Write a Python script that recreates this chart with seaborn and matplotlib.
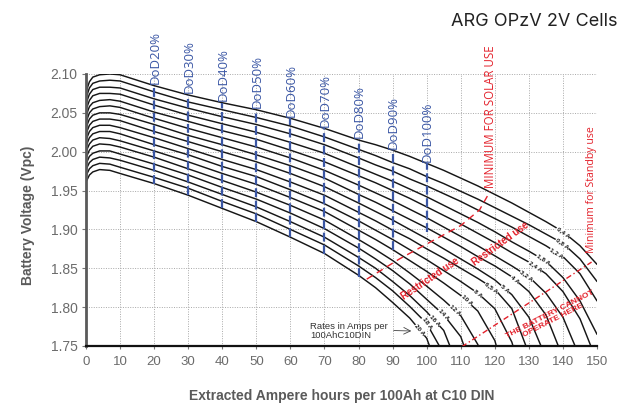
import numpy as np
import pandas as pd
import matplotlib
matplotlib.use("Agg")
import matplotlib.pyplot as plt
import seaborn as sns

# Extracted Ah per 100Ah where the curves were read
ah = [0, 1, 2, 4, 7, 10, 20, 30, 40, 50, 60, 70, 80,
      85, 90, 95, 100, 105, 110, 115, 120, 125, 130, 135, 140, 145, 150]

currents = ['0,4 A', '0,8 A', '1,2 A', '1,8 A', '2,4 A', '3,2 A', '4 A', '5 A',
            '6,5 A', '8 A', '10 A', '12 A', '14 A', '16 A', '18 A', '20 A']

# cell voltage (Vpc) of each discharge curve, read at the ah positions above
v_0p4 = [2.077, 2.090, 2.096, 2.099, 2.100, 2.099, 2.085, 2.073, 2.063, 2.054, 2.043, 2.030, 2.015,
         2.009, 2.002, 1.994, 1.985, 1.976, 1.966, 1.956, 1.945, 1.934, 1.922, 1.910, 1.897, 1.879, 1.855]
v_0p8 = [2.069, 2.082, 2.088, 2.091, 2.092, 2.091, 2.077, 2.064, 2.054, 2.044, 2.033, 2.019, 2.003,
         1.995, 1.986, 1.978, 1.968, 1.959, 1.949, 1.939, 1.928, 1.917, 1.906, 1.894, 1.882, 1.862, 1.833]
v_1p2 = [2.062, 2.074, 2.080, 2.083, 2.083, 2.082, 2.068, 2.056, 2.045, 2.035, 2.023, 2.009, 1.992,
         1.983, 1.975, 1.965, 1.956, 1.946, 1.936, 1.925, 1.914, 1.903, 1.891, 1.879, 1.865, 1.843, 1.808]
v_1p8 = [2.054, 2.066, 2.072, 2.075, 2.075, 2.074, 2.060, 2.047, 2.036, 2.025, 2.012, 1.998, 1.980,
         1.971, 1.962, 1.952, 1.942, 1.931, 1.920, 1.909, 1.897, 1.884, 1.872, 1.859, 1.838, 1.808, 1.765]
v_2p4 = [2.046, 2.058, 2.063, 2.066, 2.067, 2.065, 2.051, 2.039, 2.027, 2.016, 2.002, 1.987, 1.969,
         1.960, 1.950, 1.940, 1.929, 1.918, 1.907, 1.895, 1.883, 1.870, 1.858, 1.843, 1.820, 1.785, 1.730]
v_3p2 = [2.038, 2.050, 2.055, 2.058, 2.059, 2.057, 2.043, 2.030, 2.018, 2.006, 1.992, 1.976, 1.957,
         1.947, 1.937, 1.926, 1.915, 1.903, 1.891, 1.879, 1.866, 1.853, 1.839, 1.818, 1.787, 1.735, 1.660]
v_4 = [2.031, 2.042, 2.047, 2.050, 2.050, 2.048, 2.035, 2.021, 2.009, 1.996, 1.982, 1.966, 1.945,
       1.935, 1.924, 1.913, 1.902, 1.890, 1.878, 1.865, 1.853, 1.839, 1.820, 1.790, 1.735, 1.660]
v_5 = [2.023, 2.034, 2.039, 2.042, 2.042, 2.040, 2.026, 2.013, 2.000, 1.987, 1.972, 1.955, 1.934,
       1.923, 1.912, 1.900, 1.888, 1.875, 1.862, 1.849, 1.835, 1.816, 1.787, 1.735, 1.660]
v_6p5 = [2.015, 2.026, 2.031, 2.034, 2.034, 2.031, 2.018, 2.004, 1.990, 1.977, 1.961, 1.944, 1.922,
         1.911, 1.899, 1.888, 1.875, 1.863, 1.850, 1.837, 1.823, 1.798, 1.740, 1.660]
v_8 = [2.007, 2.018, 2.023, 2.026, 2.026, 2.023, 2.009, 1.996, 1.981, 1.968, 1.951, 1.933, 1.911,
       1.899, 1.887, 1.874, 1.861, 1.847, 1.833, 1.818, 1.798, 1.755, 1.680]
v_10 = [2.000, 2.010, 2.015, 2.018, 2.017, 2.014, 2.001, 1.987, 1.972, 1.958, 1.941, 1.923, 1.899,
        1.887, 1.874, 1.860, 1.846, 1.831, 1.815, 1.795, 1.757, 1.680]
v_12 = [1.992, 2.002, 2.007, 2.010, 2.009, 2.006, 1.993, 1.978, 1.963, 1.948, 1.931, 1.912, 1.887,
        1.874, 1.860, 1.844, 1.827, 1.809, 1.789, 1.752, 1.690]
v_14 = [1.984, 1.994, 1.998, 2.001, 2.001, 1.997, 1.984, 1.970, 1.954, 1.939, 1.921, 1.901, 1.876,
        1.862, 1.847, 1.830, 1.810, 1.790, 1.762, 1.700]
v_16 = [1.977, 1.986, 1.990, 1.993, 1.992, 1.989, 1.976, 1.961, 1.945, 1.929, 1.910, 1.890, 1.864,
        1.850, 1.833, 1.815, 1.794, 1.770, 1.715]
v_18 = [1.969, 1.978, 1.982, 1.985, 1.984, 1.980, 1.967, 1.953, 1.936, 1.920, 1.900, 1.880, 1.853,
        1.838, 1.821, 1.801, 1.779, 1.740]
v_20 = [1.961, 1.970, 1.974, 1.977, 1.976, 1.972, 1.959, 1.944, 1.927, 1.910, 1.890, 1.869, 1.841,
        1.825, 1.806, 1.786, 1.760, 1.700]

curves = [v_0p4, v_0p8, v_1p2, v_1p8, v_2p4, v_3p2, v_4, v_5,
          v_6p5, v_8, v_10, v_12, v_14, v_16, v_18, v_20]

# where the current label sits on each curve
label_ah = [140.1, 139.9, 138.2, 134.2, 131.8, 129.4, 125.9, 123.0,
            119.1, 115.1, 111.7, 108.3, 104.9, 102.4, 100.0, 98.0]

# depth of discharge markers
dod_pct = [20, 30, 40, 50, 60, 70, 80, 90, 100]
dod_top = [2.085, 2.073, 2.063, 2.054, 2.043, 2.030, 2.015, 2.002, 1.985]
dod_bottom = [1.959, 1.944, 1.927, 1.910, 1.890, 1.869, 1.839, 1.873, 1.897]

# minimum for solar use (red dashed)
solar_ah = [82.4, 92, 102, 110, 115.5, 118.6]
solar_v = [1.836, 1.862, 1.886, 1.905, 1.925, 1.949]

# the battery cannot operate here (red dash-dot)
limit_ah = [110.3, 148.4]
limit_v = [1.749, 1.858]

RED = '#e3202a'
BLUE = '#3b57a5'

sns.set_theme(style='white')
plt.rcParams['font.family'] = ['Liberation Sans', 'DejaVu Sans']

rows = []
for name, v in zip(currents, curves):
    for x, y in zip(ah, v):
        rows.append((name, x, y))
df = pd.DataFrame(rows, columns=['current', 'ah', 'v'])

fig = plt.figure(figsize=(6.21, 4.05), dpi=100)
ax = fig.add_axes([0.1385, 0.1457, 0.8229, 0.6716])

ax.set_xlim(0, 150)
ax.set_ylim(1.75, 2.10)
ax.set_xticks(range(0, 151, 10))
ax.set_yticks(np.arange(1.75, 2.101, 0.05))
ax.set_yticklabels([f'{t:.2f}' for t in np.arange(1.75, 2.101, 0.05)])
ax.grid(True, color='#a8a8a8', linestyle=(0, (1, 1.5)), lw=0.7)
ax.set_axisbelow(True)

sns.lineplot(data=df, x='ah', y='v', hue='current', hue_order=currents,
             palette=['#161616'] * len(currents), legend=False, sort=False,
             estimator=None, lw=1.05, ax=ax, zorder=2)

# DoD markers
ax.vlines(dod_pct, dod_bottom, dod_top, colors=BLUE, linestyles=(0, (4, 1.6)),
          lw=1.6, zorder=3)
for x, top in zip(dod_pct, dod_top):
    ax.text(x + 0.3, top + 0.002, f'DoD{x}%', rotation=90, ha='center', va='bottom',
            color=BLUE, fontsize=9.5, family='Open Sans', clip_on=False)

# red limit lines and texts
ax.plot(solar_ah, solar_v, color=RED, lw=1.0, linestyle=(0, (5, 3.5)), zorder=3)
ax.text(118.8, 1.953, 'MINIMUM FOR SOLAR USE', rotation=90, ha='center', va='bottom',
        color=RED, fontsize=8.3, family='Open Sans', clip_on=False)
ax.plot(limit_ah, limit_v, color=RED, lw=1.0, linestyle=(0, (4, 2, 1, 2)), zorder=3)
ax.text(148.3, 1.870, 'Minimum for Standby use', rotation=90, ha='center', va='bottom',
        color=RED, fontsize=7.6, family='Open Sans', clip_on=False)
ax.text(101, 1.836, 'Restricted use', rotation=34, rotation_mode='anchor',
        ha='center', va='center', color=RED, fontsize=7, fontweight='bold', zorder=4)
ax.text(121.7, 1.881, 'Restricted use', rotation=36, rotation_mode='anchor',
        ha='center', va='center', color=RED, fontsize=7, fontweight='bold', zorder=4)
ax.text(136.6, 1.787, 'THE BATTERY CANNOT\nOPERATE HERE', rotation=27,
        rotation_mode='anchor', ha='center', va='center', multialignment='center',
        linespacing=1.05, color=RED, fontsize=6.1, fontweight='bold', zorder=4)

# current labels on each curve
for name, v, lx in zip(currents, curves, label_ah):
    xs = ah[:len(v)]
    ly = np.interp(lx, xs, v)
    p1 = ax.transData.transform((lx - 1.5, np.interp(lx - 1.5, xs, v)))
    p2 = ax.transData.transform((lx + 1.5, np.interp(lx + 1.5, xs, v)))
    ang = np.degrees(np.arctan2(p2[1] - p1[1], p2[0] - p1[0]))
    ax.text(lx, ly, name, rotation=ang, rotation_mode='anchor', ha='center', va='center',
            fontsize=4.6, fontweight='bold', color='#161616', zorder=5,
            bbox=dict(boxstyle='square,pad=0.05', fc='white', ec='none'))

ax.text(65.7, 1.7692, 'Rates in Amps per\n100AhC10DIN', ha='left', va='center',
        fontsize=6.8, color='#333333', linespacing=1.0, zorder=4)
ax.annotate('', xy=(96.3, 1.7692), xytext=(89.5, 1.7700),
            arrowprops=dict(arrowstyle='->', color='#444444', lw=0.6))

# axes styling
for side in ['top', 'right']:
    ax.spines[side].set_visible(False)
ax.spines['left'].set_color('#5a5a5a')
ax.spines['left'].set_linewidth(2.0)
ax.spines['bottom'].set_color('#111111')
ax.spines['bottom'].set_linewidth(1.6)
ax.tick_params(axis='y', length=3, width=0.8, color='#777777', pad=3,
               labelsize=10, labelcolor='#6b6b6b', left=True)
ax.tick_params(axis='x', length=2, width=0.8, color='#777777', pad=5,
               labelsize=9.5, labelcolor='#6b6b6b', bottom=True)

ax.set_xlabel('Extracted Ampere hours per 100Ah at C10 DIN', fontsize=10,
              fontweight='bold', color='#5a5a5a')
ax.xaxis.set_label_coords(0.5, -0.158)
ax.set_ylabel('Battery Voltage (Vpc)', fontsize=10, fontweight='bold', color='#5a5a5a')
ax.yaxis.set_label_coords(-0.10, 0.48)

fig.text(0.995, 0.946, 'ARG OPzV 2V Cells', fontsize=13, family='Inter',
         color='#222222', ha='right', va='center')

fig.savefig('out.png', dpi=100)
